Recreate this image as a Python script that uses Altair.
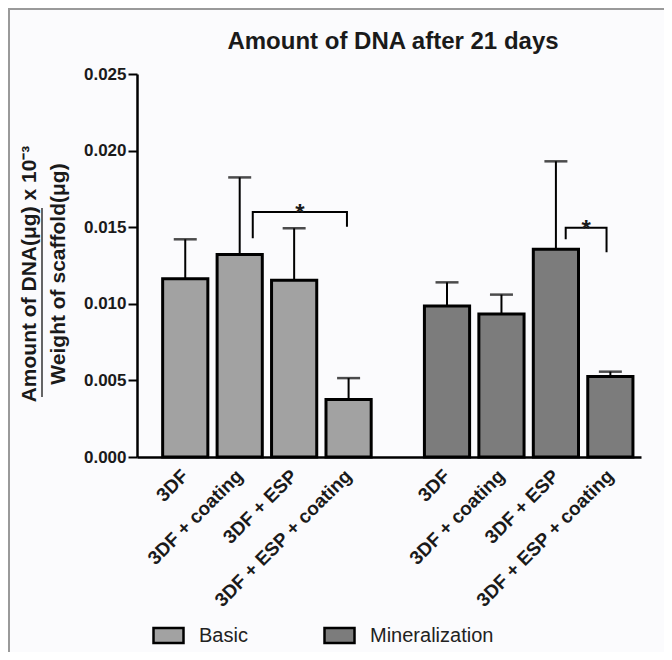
import altair as alt
import pandas as pd

# ---------------- data ----------------
groups = ["Basic", "Mineralization"]
conditions = ["3DF", "3DF + coating", "3DF + ESP", "3DF + ESP + coating"]
basic_mean = [0.01164, 0.01321, 0.01153, 0.00375]
basic_upper = [0.01421, 0.01825, 0.01493, 0.00515]
mineral_mean = [0.00985, 0.00934, 0.01356, 0.00526]
mineral_upper = [0.0114, 0.0106, 0.0193, 0.00557]

# significance brackets (positions in bar-slot units inside a group)
bracket_group = ["Basic", "Mineralization"]
bracket_from = [1.74, 2.68]
bracket_to = [3.47, 3.43]
bracket_top = [0.0160, 0.01497]
bracket_from_end = [0.01428, 0.01421]
bracket_to_end = [0.01503, 0.01336]
bracket_label = ["*", "*"]

title_text = ["Amount of DNA after 21 days"]
y_title = ["Amount of DNA(μg)  x 10⁻³", "Weight of scaffold(μg)"]
y_ticks = [0.0, 0.005, 0.010, 0.015, 0.020, 0.025]

# ---------------- tables ----------------
rows = []
for g, means, ups in [("Basic", basic_mean, basic_upper), ("Mineralization", mineral_mean, mineral_upper)]:
    for c, m, u in zip(conditions, means, ups):
        rows.append({"group": g, "condition": c, "mean": m, "upper": u})
bars_df = pd.DataFrame(rows)

path_rows = []
for i, g in enumerate(bracket_group):
    pts = [(bracket_from[i], bracket_from_end[i]), (bracket_from[i], bracket_top[i]),
           (bracket_to[i], bracket_top[i]), (bracket_to[i], bracket_to_end[i])]
    for k, (p, v) in enumerate(pts):
        path_rows.append({"group": g, "id": i, "order": k, "pos": p, "val": v})
path_df = pd.DataFrame(path_rows)

star_df = pd.DataFrame({"group": bracket_group, "a": bracket_from, "b": bracket_to,
                        "top": bracket_top, "label": bracket_label})

W, H = 504, 383
FONT = "Liberation Sans"
INK = "#1a1a1a"

x_scale = alt.Scale(domain=groups, paddingInner=0.168, paddingOuter=0.0467, align=0.86)
x_axis = alt.Axis(title=None, labels=False, ticks=False, domainColor="black",
                  domainWidth=2.5, grid=False)
x_enc = alt.X("group:N", scale=x_scale, axis=x_axis)
xo_nom = alt.XOffset("condition:N",
                     scale=alt.Scale(type="band", domain=conditions,
                                     paddingInner=0.17, paddingOuter=0.085))
xo_q = alt.XOffset("pos:Q", scale=alt.Scale(domain=[0, 4], nice=False, zero=False))
y_scale = alt.Scale(domain=[0, 0.025], nice=False, zero=True)

y_axis = alt.Axis(values=y_ticks, format=".3f", grid=False,
                  labelFont=FONT, labelFontSize=17, labelFontWeight="bold", labelColor=INK,
                  labelPadding=2, tickSize=9, tickWidth=2, tickColor="black",
                  domainColor="black", domainWidth=2.5,
                  title=y_title,
                  titleFont=FONT, titleFontSize=21, titleFontWeight="bold", titleColor=INK,
                  titleLineHeight=29, titlePadding=15, titleY=H / 2 + 8)


def yq(field):
    return alt.Y(field, type="quantitative", scale=y_scale, axis=y_axis)


base = alt.Chart(bars_df)

bars = base.mark_bar(stroke="black", strokeWidth=3).encode(
    x=x_enc,
    xOffset=xo_nom,
    y=yq("mean"),
    fill=alt.Fill("group:N", scale=alt.Scale(domain=groups, range=["#a2a2a2", "#7c7c7c"]),
                  legend=alt.Legend(title=None, orient="none", legendX=15, legendY=545,
                                    direction="horizontal",
                                    symbolType="M-1,-0.5H1V0.5H-1Z", symbolSize=900,
                                    symbolStrokeColor="black", symbolStrokeWidth=2.5,
                                    symbolOpacity=1,
                                    labelFont=FONT, labelFontSize=20, labelColor="#222",
                                    labelOffset=14, columnPadding=71)),
)

err = base.mark_rule(color="black", strokeWidth=2).encode(
    x=x_enc, xOffset=xo_nom, y=yq("mean"), y2="upper:Q",
)

caps = base.mark_tick(color="black", thickness=2.5, size=23).encode(
    x=x_enc, xOffset=xo_nom, y=yq("upper"),
)

xlabels = base.mark_text(angle=315, align="right", baseline="middle", font=FONT,
                         fontSize=19, fontWeight="bold", color=INK).encode(
    x=x_enc, xOffset=xo_nom,
    y=alt.value(H + 16),
    text="condition:N",
)

brackets = alt.Chart(path_df).mark_line(color="black", strokeWidth=2).encode(
    x=x_enc, xOffset=xo_q, y=yq("val"),
    detail="id:N", order="order:Q",
)

stars = alt.Chart(star_df).transform_calculate(pos="(datum.a + datum.b) / 2").mark_text(
    font=FONT, fontSize=24, fontWeight="bold", color=INK, baseline="alphabetic", dy=9
).encode(
    x=x_enc, xOffset=xo_q, y=yq("top"), text="label:N",
)

deco = alt.Chart(pd.DataFrame({"t": title_text}))
title_mark = deco.mark_text(font=FONT, fontSize=24, fontWeight="bold", color=INK,
                            align="center", baseline="alphabetic").encode(
    x=alt.value(W / 2 + 4), y=alt.value(-25), text="t:N")
fraction_line = deco.mark_rule(color="#333", strokeWidth=1.5).encode(
    x=alt.value(-95), y=alt.value(134), y2=alt.value(323))
frame_left = deco.mark_rule(color="#9a9a9a", strokeWidth=2).encode(
    x=alt.value(-128), y=alt.value(-66), y2=alt.value(H + 195))
frame_top = deco.mark_rule(color="#9a9a9a", strokeWidth=2).encode(
    x=alt.value(-129), x2=alt.value(W + 23), y=alt.value(-65))

chart = alt.layer(
    bars, err, caps, xlabels, brackets, stars, fraction_line, title_mark, frame_left, frame_top
).resolve_scale(xOffset="independent").properties(
    width=W, height=H,
    autosize=alt.AutoSizeParams(type="none"),
    padding={"left": 129, "top": 66, "right": 23, "bottom": 195},
    background="#fbfbfd",
).configure_view(stroke=None)

chart.save("out.html", embed_options={"renderer": "svg", "actions": False})
